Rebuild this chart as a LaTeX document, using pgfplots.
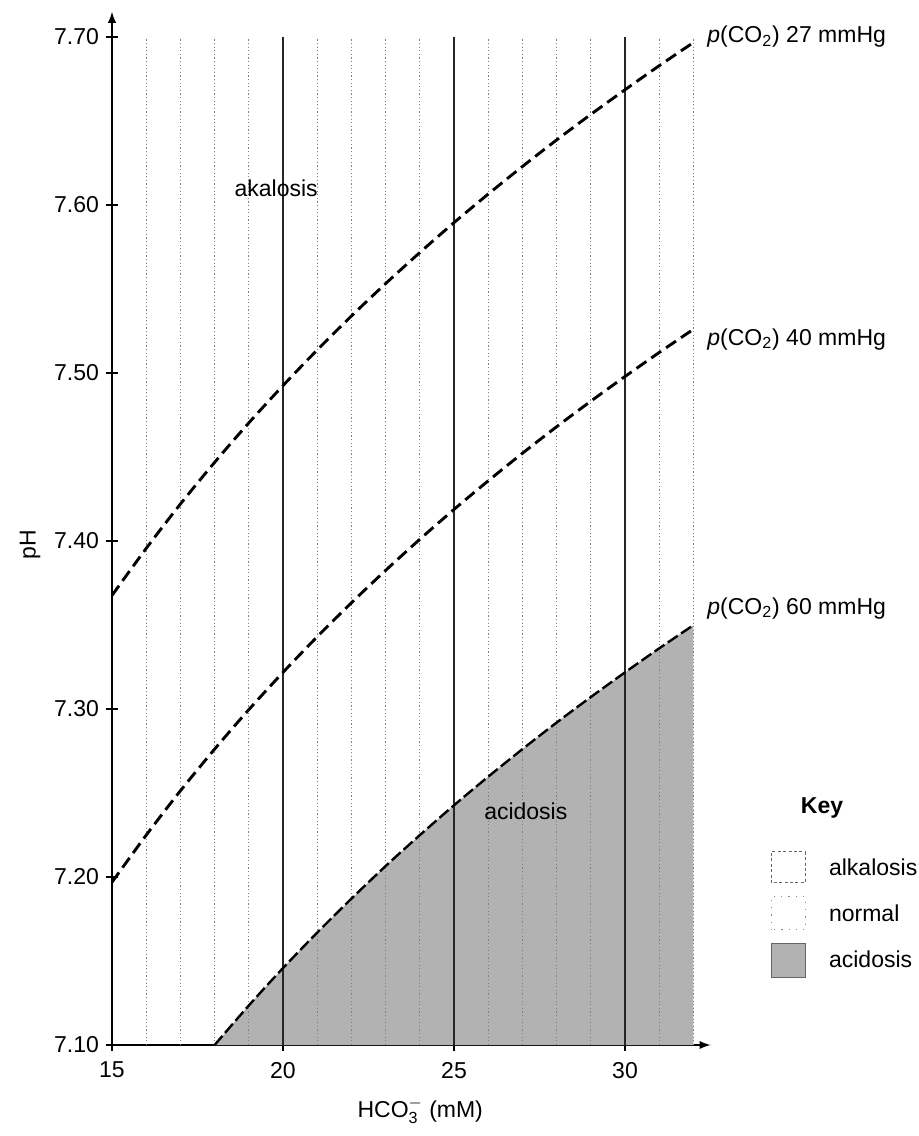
\documentclass[border=0pt]{standalone}
\usepackage{pgfplots}
\pgfplotsset{compat=1.18}
\usepackage{fontspec}
\setmainfont{Liberation Sans}
\begin{document}
\begin{tikzpicture}[font=\fontsize{11.5}{13.8}\selectfont]
\path[use as bounding box] (0,0) rectangle (459pt,568pt);
\begin{axis}[
  at={(56pt,45.5pt)}, anchor=south west,
  scale only axis, width=299.25pt, height=516.6pt,
  xmin=15, xmax=32.5, ymin=7.1, ymax=7.715,
  clip=false,
  axis lines=left,
  axis line style={line width=0.9pt, -latex},
  xtick={15,20,25,30},
  ytick={7.1,7.2,7.3,7.4,7.5,7.6,7.7},
  tick align=center,
  major tick length=6pt,
  tick style={black, line width=0.8pt},
  /pgf/number format/assume math mode=true,
  yticklabel style={/pgf/number format/.cd, fixed, fixed zerofill, precision=2},
  xticklabel style={yshift=-2pt},
  xlabel={HCO$_{\mathrm{3}}^{-}$ (mM)},
  ylabel={pH},
  xlabel style={at={(axis description cs:0.515,-0.064)}, anchor=center},
  ylabel style={at={(axis description cs:-0.137,0.484)}, anchor=center, rotate=0},
]
% acidosis region
\addplot[draw=none, fill=black!30] coordinates {
(18,7.1000) (19,7.1235) (20,7.1458) (21,7.1669) (22,7.1871) (23,7.2065)
(24,7.2249) (25,7.2427) (26,7.2597) (27,7.2761) (28,7.2919) (29,7.3071)
(30,7.3218) (31,7.3361) (32,7.3499) (32,7.1)
} -- cycle;
% vertical grid
\pgfplotsinvokeforeach{16,17,18,19,21,22,23,24,26,27,28,29,31,32}{
  \draw[black!50, line width=0.5pt, dash pattern=on 0.6pt off 1.2pt] (axis cs:#1,7.1) -- (axis cs:#1,7.7);
}
\pgfplotsinvokeforeach{20,25,30}{
  \draw[black!85, line width=0.7pt] (axis cs:#1,7.1) -- (axis cs:#1,7.7);
}
% pCO2 27 mmHg
\addplot[black, line width=1.45pt, dash pattern=on 6pt off 3pt, smooth] coordinates {
(15,7.3676) (16,7.3956) (17,7.4220) (18,7.4468) (19,7.4703) (20,7.4925)
(21,7.5137) (22,7.5339) (23,7.5532) (24,7.5717) (25,7.5895) (26,7.6065)
(27,7.6229) (28,7.6387) (29,7.6539) (30,7.6686) (31,7.6829) (32,7.6967)
};
% pCO2 40 mmHg
\addplot[black, line width=1.45pt, dash pattern=on 6pt off 3pt, smooth] coordinates {
(15,7.1969) (16,7.2249) (17,7.2513) (18,7.2761) (19,7.2996) (20,7.3218)
(21,7.3430) (22,7.3632) (23,7.3825) (24,7.4010) (25,7.4188) (26,7.4358)
(27,7.4522) (28,7.4680) (29,7.4832) (30,7.4979) (31,7.5122) (32,7.5260)
};
% pCO2 60 mmHg
\addplot[black, line width=1.2pt, dash pattern=on 6pt off 2pt, smooth] coordinates {
(18,7.1000) (19,7.1235) (20,7.1458) (21,7.1669) (22,7.1871) (23,7.2065)
(24,7.2249) (25,7.2427) (26,7.2597) (27,7.2761) (28,7.2919) (29,7.3071)
(30,7.3218) (31,7.3361) (32,7.3499)
};
\node at (axis cs:19.8,7.61) {akalosis};
\node at (axis cs:27.1,7.239) {acidosis};
\node[anchor=west] at (axis cs:32.2,7.70) {\textit{p}(CO\textsubscript{2}) 27 mmHg};
\node[anchor=west] at (axis cs:32.2,7.52) {\textit{p}(CO\textsubscript{2}) 40 mmHg};
\node[anchor=west] at (axis cs:32.2,7.36) {\textit{p}(CO\textsubscript{2}) 60 mmHg};
\end{axis}
% key
\node[font=\fontsize{11.5}{13.8}\selectfont\bfseries] at (411pt,164pt) {Key};
\draw[black!60, line width=0.5pt, dash pattern=on 1.5pt off 1.2pt] (385.5pt,126.5pt) rectangle (402.5pt,142pt);
\draw[black!45, line width=0.5pt, dash pattern=on 0.6pt off 3pt] (385.5pt,103pt) rectangle (402.5pt,119.5pt);
\draw[black!60, fill=black!30, line width=0.4pt] (385.5pt,79.5pt) rectangle (402.5pt,96.5pt);
\node[anchor=west] at (411pt,134.5pt) {alkalosis};
\node[anchor=west] at (411pt,111.5pt) {normal};
\node[anchor=west] at (411pt,88.5pt) {acidosis};
\end{tikzpicture}
\end{document}
